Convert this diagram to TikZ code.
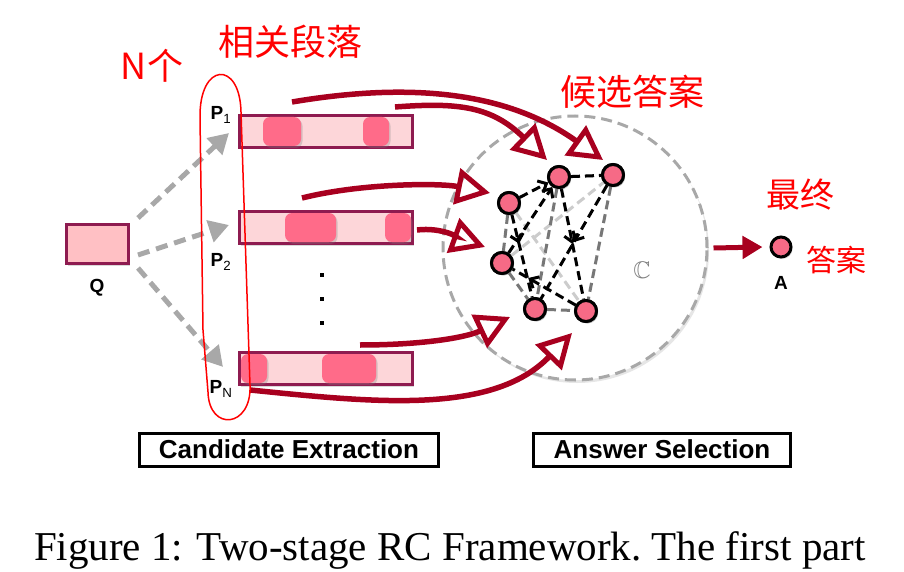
\documentclass[tikz,border=0pt]{standalone}
\usepackage{fontspec}
\setmainfont{Liberation Serif}
\setsansfont{Liberation Sans}
\newfontfamily\cjk{Noto Sans CJK SC}
\usepackage{amssymb}
\usetikzlibrary{arrows.meta,shadows,decorations.markings}

\definecolor{boxred}{HTML}{8E1B50}
\definecolor{parafill}{HTML}{FDD6D9}
\definecolor{spanfill}{HTML}{FF6B89}
\definecolor{qfill}{HTML}{FFC0C4}
\definecolor{flowred}{HTML}{A8001F}
\definecolor{candfill}{HTML}{F66A86}
\definecolor{qgray}{HTML}{A8A8A8}
\definecolor{edgegray}{HTML}{777777}
\definecolor{edgelight}{HTML}{CCCCCC}

\newcommand{\plabel}[1]{\textbf{P}\textsubscript{\mdseries #1}}

\tikzset{
  para/.style={draw=boxred, line width=3pt, fill=parafill, minimum width=173pt, minimum height=32pt, inner sep=0pt,
    drop shadow={opacity=0.3, shadow xshift=1.5pt, shadow yshift=-2pt}},
  span/.style={fill=spanfill, rounded corners=7pt, minimum height=29pt, inner sep=0pt,
    drop shadow={opacity=0.3, shadow xshift=1.5pt, shadow yshift=-2pt}},
  qbox/.style={draw=boxred, line width=3pt, fill=qfill, minimum width=62pt, minimum height=39pt, inner sep=0pt,
    drop shadow={opacity=0.3, shadow xshift=1.5pt, shadow yshift=-2pt}},
  lbl/.style={font=\fontsize{19}{19}\selectfont\sffamily\bfseries, inner sep=0pt},
  cand/.style={circle, draw=black, line width=3pt, fill=candfill, minimum size=21pt, inner sep=0pt,
    drop shadow={opacity=0.3, shadow xshift=1.5pt, shadow yshift=-2pt}},
  selcircle/.style={circle, draw=qgray, line width=3pt, dash pattern=on 11pt off 6pt, fill=white, minimum size=264pt,
    drop shadow={opacity=0.2, shadow xshift=2pt, shadow yshift=-3pt}},
  query/.style={draw=qgray, line width=5pt, dash pattern=on 12pt off 7pt, -{Triangle[length=20pt,width=22pt]}},
  flow/.style={draw=flowred, line width=5.5pt, -{Triangle[open, length=34pt, width=36pt, line width=5pt]}},
  blk/.style={black, line width=3pt, dash pattern=on 9pt off 5pt},
  gry/.style={edgegray, line width=3pt, dash pattern=on 9pt off 5pt},
  lgry/.style={edgelight, line width=3pt, dash pattern=on 9pt off 5pt},
  midarrow/.style={postaction={decorate}, decoration={markings,
    mark=at position #1 with {\arrow{Straight Barb[length=7pt,width=13pt,line width=3pt]}}}},
  stage/.style={draw=black, line width=3pt, minimum height=33pt, inner sep=0pt,
    font=\fontsize{26}{26}\selectfont\sffamily\bfseries},
  hand/.style={red, font=\fontsize{36}{36}\selectfont\cjk, inner sep=0pt},
}

\begin{document}
\begin{tikzpicture}[x=1pt,y=-1pt]
\useasboundingbox (0,0) rectangle (904,572);

% question
\node[qbox] (q) at (97.5,244) {};
\node[lbl] (ql) at (97,288) {Q};

% paragraphs
\node[para] (p1) at (326,131.5) {};
\node[span, minimum width=38pt] (p1a) at (282,131.5) {};
\node[span, minimum width=26pt] (p1b) at (376,131.5) {};
\node[para] (p2) at (326,227.5) {};
\node[span, minimum width=51pt] (p2a) at (310.5,227.5) {};
\node[span, minimum width=26pt] (p2b) at (398,227.5) {};
\node[para] (pn) at (326,368.5) {};
\node[span, minimum width=26pt] (pna) at (254,368.5) {};
\node[span, minimum width=54pt] (pnb) at (349,368.5) {};
\foreach \y [count=\i] in {275,299,323}
  \node[fill=black, minimum size=4.5pt, inner sep=0pt] (dot\i) at (322,\y) {};

\node[lbl] (pl1) at (221,115) {\plabel{1}};
\node[lbl] (pl2) at (221,262) {\plabel{2}};
\node[lbl] (pln) at (221,389) {\plabel{N}};

% query to paragraphs
\coordinate (qa) at (138,218);
\coordinate (qb) at (138,255);
\coordinate (qc) at (138,268);
\coordinate (ta) at (229,133);
\coordinate (tb) at (229,225);
\coordinate (tc) at (223,367);
\draw[query] (qa) -- (ta);
\draw[query] (qb) -- (tb);
\draw[query] (qc) -- (tc);

% answer selection
\node[selcircle] (sel) at (575,248) {};
\node[text=gray, font=\fontsize{24}{24}\selectfont] (cset) at (642,270) {$\mathbb{C}$};

\node[cand] (n1) at (559,177) {};
\node[cand] (n2) at (613,175) {};
\node[cand] (n3) at (509,203) {};
\node[cand] (n4) at (502,263) {};
\node[cand] (n5) at (535,309) {};
\node[cand] (n6) at (586,311) {};

\draw[lgry] (n1) -- (n2);
\draw[lgry] (n4) -- (n2);
\draw[lgry] (n3) -- (n6);
\draw[gry] (n3) -- (n4);
\draw[gry] (n1) -- (n5);
\draw[gry] (n2) -- (n6);
\draw[gry] (n5) -- (n6);
\draw[gry] (n4) -- (n5);
\draw[blk, -{Straight Barb[length=7pt,width=13pt]}] (n3) -- (n1);
\draw[blk] (n1) -- (n2);
\draw[blk, -{Straight Barb[length=7pt,width=13pt]}] (n4) -- (n1);
\draw[blk, midarrow=0.35] (n3) -- (n5);
\draw[blk, midarrow=0.5] (n1) -- (n6);
\draw[blk, midarrow=0.5] (n2) -- (n5);
\draw[blk, midarrow=0.75] (n6) -- (n4);
\foreach \n in {n1,n2,n3,n4,n5,n6}
  \node[cand] at (\n) {};

% paragraphs to candidates
\coordinate (s1) at (292,102);
\coordinate (s2) at (395,107);
\coordinate (s3) at (302,198);
\coordinate (s4) at (417,230);
\coordinate (s5) at (360,345);
\coordinate (s6) at (250,390);
\coordinate (e1) at (603,160);
\coordinate (e2) at (547,160);
\coordinate (e3) at (490,193);
\coordinate (e4) at (485,247);
\coordinate (e5) at (510,317);
\coordinate (e6) at (572,333);
\draw[flow] (s1) .. controls +(130,-22) and +(-90,-64) .. (e1);
\draw[flow] (s2) .. controls +(65,-5) and +(-55,-53) .. (e2);
\draw[flow] (s3) .. controls +(60,-15) and +(-50,-10) .. (e3);
\draw[flow] (s4) .. controls +(25,-3) and +(-25,-9) .. (e4);
\draw[flow] (s5) .. controls +(60,0) and +(-45,21) .. (e5);
\draw[flow] (s6) .. controls +(120,12) and +(-80,83) .. (e6);

% final answer
\node[circle, draw=black, line width=3pt, fill=candfill, minimum size=20pt, inner sep=0pt,
  drop shadow={opacity=0.3, shadow xshift=1.5pt, shadow yshift=-2pt}] (ans) at (781,247) {};
\node[lbl] (al) at (781,283) {A};
\draw[flowred, line width=5pt, -{Triangle[length=20pt,width=22pt]}] ([xshift=5pt]sel.east) -- ([xshift=-7pt]ans.west);

% stage labels
\node[stage, minimum width=299pt] (ce) at (289,449.5) {Candidate Extraction};
\node[stage, minimum width=257pt] (as) at (662,449.5) {Answer Selection};

% handwritten notes
\draw[red, line width=1.5pt] (203,330) -- (200,118) .. controls (199,62) and (240,60) .. (241,112)
  -- (250,385) .. controls (252,428) and (209,432) .. (208,392) -- cycle;
\node[hand] (nlab) at (152,66) {N个};
\node[hand] (rlab) at (290,42) {相关段落};
\node[hand] (clab) at (632,92) {候选答案};
\node[hand, font=\fontsize{34}{34}\selectfont\cjk] (flab1) at (800,195) {最终};
\node[hand, font=\fontsize{30}{30}\selectfont\cjk] (flab2) at (836,260) {答案};

% caption
\node[font=\fontsize{41}{41}\selectfont, anchor=base, inner sep=0pt] (cap) at (450,560)
  {Figure 1: Two-stage RC Framework.\ The first part};
\end{tikzpicture}
\end{document}
